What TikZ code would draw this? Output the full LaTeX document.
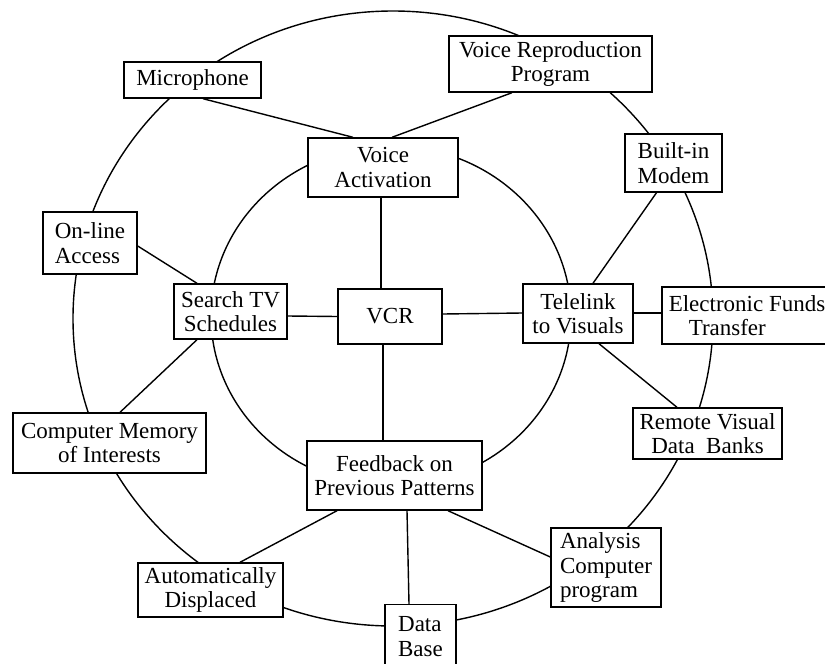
\documentclass[tikz,border=0pt]{standalone}
\usepackage{fontspec}
\setmainfont{Liberation Serif}
\begin{document}
\begin{tikzpicture}[x=1pt,y=-1pt, line width=1.4pt,
  box/.style={draw, fill=white, inner sep=1pt, align=center,
    font=\fontsize{23}{24.5}\selectfont},
  lbox/.style={box, align=left}]
\clip (0,0) rectangle (825,664);
\useasboundingbox (0,0) rectangle (825,664);
% rings
\draw (393,318.5) ellipse [x radius=320pt, y radius=307.5pt];
\draw (391,316) ellipse [x radius=180pt, y radius=170pt];
% nodes
\node[box, minimum width=137pt, minimum height=36pt] (mic) at (192.5,80) {Microphone};
\node[box, minimum width=203pt, minimum height=56pt] (vrp) at (550.5,64) {Voice Reproduction\\Program};
\node[box, minimum width=150pt, minimum height=59pt] (va) at (383,167.5) {Voice\\Activation};
\node[lbox, minimum width=97pt, minimum height=58pt] (bim) at (673.5,163) {Built-in\\Modem};
\node[lbox, minimum width=94pt, minimum height=62pt] (ola) at (90,243) {On-line\\Access};
\node[box, minimum width=113pt, minimum height=55pt] (stv) at (230.5,311.5) {Search TV\\Schedules};
\node[box, minimum width=104pt, minimum height=55pt] (vcr) at (390,316.5) {VCR};
\node[box, minimum width=110pt, minimum height=59pt] (tel) at (578,313.5) {Telelink\\to Visuals};
\node[lbox, minimum width=170pt, minimum height=57pt] (eft) at (747,315.5) {Electronic Funds\\\hspace*{20pt}Transfer};
\node[box, minimum width=193pt, minimum height=60pt] (cmi) at (109.5,443) {Computer Memory\\of Interests};
\node[box, minimum width=149pt, minimum height=51pt] (rvd) at (707.5,433.5) {Remote Visual\\Data\ \ Banks};
\node[box, minimum width=175pt, minimum height=69pt] (fpp) at (394.5,475.5) {Feedback on\\Previous Patterns};
\node[box, minimum width=145pt, minimum height=54pt] (ad) at (210.5,590) {Automatically\\Displaced};
\node[lbox, minimum width=110pt, minimum height=79pt] (acp) at (606,567.5) {Analysis\\Computer\\program};
\node[lbox, minimum width=71pt, minimum height=64pt, anchor=north] (db) at (420.5,604) {Data\\Base};
% links
\draw ([xshift=10.5pt]mic.south) -- ([xshift=-30pt]va.north);
\draw ([xshift=-38.5pt]vrp.south) -- ([xshift=9pt]va.north);
\draw ([xshift=-2pt]va.south) -- ([xshift=-9pt]vcr.north);
\draw ([xshift=-7pt]vcr.south) -- ([xshift=-11.5pt]fpp.north);
\draw ([yshift=-4.5pt]stv.east) -- (vcr.west);
\draw ([yshift=2.5pt]vcr.east) -- ([yshift=0.5pt]tel.west);
\draw ([yshift=0.5pt]tel.east) -- ([yshift=2.5pt]eft.west);
\draw ([xshift=-17pt]bim.south) -- ([xshift=15pt]tel.north);
\draw ([xshift=21pt]tel.south) -- ([xshift=-30.5pt]rvd.north);
\draw ([yshift=-3pt]ola.east) -- ([xshift=-33.5pt]stv.north);
\draw ([xshift=-33.5pt]stv.south) -- ([xshift=10.5pt]cmi.north);
\draw ([xshift=-57.5pt]fpp.south) -- ([xshift=29.5pt]ad.north);
\draw ([xshift=12.5pt]fpp.south) -- ([xshift=-11.5pt]db.north);
\draw ([xshift=53.5pt]fpp.south) -- ([yshift=10.5pt]acp.west);
\end{tikzpicture}
\end{document}
